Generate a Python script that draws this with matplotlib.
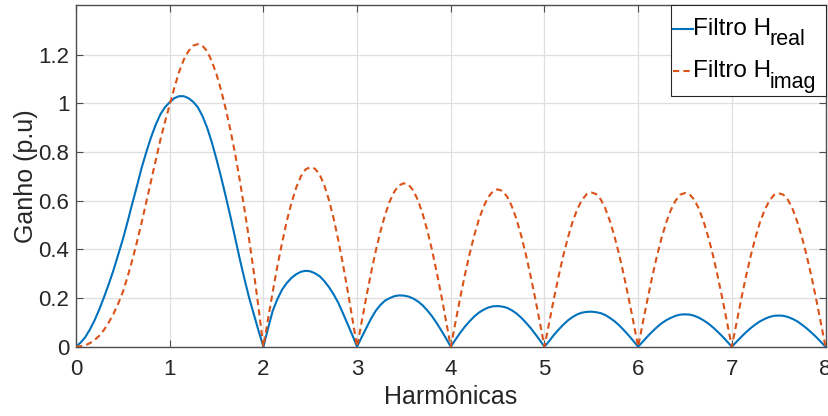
import matplotlib
matplotlib.use("Agg")
import matplotlib.pyplot as plt
import numpy as np
from matplotlib.lines import Line2D
from matplotlib.patches import Rectangle

# ── Data (one value every 0.05 harmonic) ─────────────────────────────────────

harmonicas = np.round(np.arange(161) * 0.05, 2)

# one row per harmonic interval [k, k+1)
ganho_real = [
    0.000, 0.017, 0.040, 0.072, 0.110, 0.155, 0.205, 0.258, 0.315, 0.378,
    0.442, 0.513, 0.588, 0.660, 0.735, 0.800, 0.860, 0.912, 0.955, 0.985,
    1.005, 1.022, 1.030, 1.030, 1.022, 1.007, 0.985, 0.948, 0.900, 0.840,
    0.770, 0.695, 0.615, 0.532, 0.445, 0.357, 0.275, 0.198, 0.130, 0.063,
    0.000, 0.076, 0.148, 0.196, 0.235, 0.262, 0.283, 0.298, 0.308, 0.312,
    0.310, 0.302, 0.290, 0.270, 0.245, 0.215, 0.180, 0.137, 0.092, 0.047,
    0.000, 0.040, 0.078, 0.116, 0.148, 0.172, 0.190, 0.200, 0.208, 0.211,
    0.210, 0.206, 0.198, 0.186, 0.170, 0.149, 0.125, 0.097, 0.066, 0.034,
    0.000, 0.029, 0.057, 0.082, 0.104, 0.124, 0.140, 0.152, 0.161, 0.166,
    0.167, 0.165, 0.160, 0.150, 0.137, 0.120, 0.100, 0.078, 0.053, 0.027,
    0.000, 0.023, 0.048, 0.070, 0.090, 0.108, 0.122, 0.133, 0.140, 0.143,
    0.144, 0.142, 0.138, 0.130, 0.118, 0.104, 0.087, 0.067, 0.046, 0.023,
    0.000, 0.021, 0.042, 0.062, 0.080, 0.096, 0.109, 0.119, 0.127, 0.132,
    0.133, 0.132, 0.127, 0.119, 0.108, 0.095, 0.079, 0.061, 0.042, 0.021,
    0.000, 0.020, 0.040, 0.059, 0.076, 0.091, 0.104, 0.114, 0.122, 0.127,
    0.128, 0.127, 0.122, 0.114, 0.104, 0.090, 0.075, 0.058, 0.040, 0.020,
    0.000,
]

ganho_imag = [
    0.000, 0.002, 0.006, 0.015, 0.028, 0.046, 0.070, 0.100, 0.135, 0.177,
    0.225, 0.287, 0.355, 0.430, 0.510, 0.595, 0.680, 0.767, 0.850, 0.925,
    0.995, 1.065, 1.130, 1.180, 1.215, 1.238, 1.244, 1.237, 1.215, 1.173,
    1.120, 1.052, 0.975, 0.887, 0.790, 0.680, 0.560, 0.435, 0.300, 0.155,
    0.000, 0.115, 0.226, 0.333, 0.428, 0.517, 0.592, 0.654, 0.700, 0.729,
    0.738, 0.732, 0.708, 0.664, 0.603, 0.527, 0.437, 0.337, 0.229, 0.115,
    0.000, 0.105, 0.208, 0.305, 0.395, 0.475, 0.544, 0.599, 0.639, 0.664,
    0.672, 0.666, 0.642, 0.602, 0.546, 0.477, 0.397, 0.306, 0.209, 0.105,
    0.000, 0.101, 0.200, 0.294, 0.380, 0.457, 0.523, 0.576, 0.615, 0.639,
    0.647, 0.641, 0.618, 0.579, 0.526, 0.459, 0.382, 0.295, 0.201, 0.102,
    0.000, 0.099, 0.196, 0.288, 0.373, 0.448, 0.513, 0.565, 0.603, 0.627,
    0.634, 0.628, 0.606, 0.568, 0.515, 0.450, 0.375, 0.289, 0.197, 0.100,
    0.000, 0.099, 0.195, 0.287, 0.372, 0.447, 0.511, 0.563, 0.601, 0.625,
    0.632, 0.626, 0.604, 0.566, 0.513, 0.449, 0.374, 0.288, 0.196, 0.099,
    0.000, 0.098, 0.195, 0.287, 0.371, 0.446, 0.511, 0.562, 0.600, 0.624,
    0.631, 0.625, 0.603, 0.565, 0.512, 0.448, 0.373, 0.288, 0.196, 0.099,
    0.000,
]

SERIES = [
    # (values, main label, subscript)
    (ganho_real, "Filtro H", "real"),
    (ganho_imag, "Filtro H", "imag"),
]

X_TICKS = [0, 1, 2, 3, 4, 5, 6, 7, 8]
Y_TICKS = [0, 0.2, 0.4, 0.6, 0.8, 1.0, 1.2]
Y_TICK_LABELS = ["0", "0.2", "0.4", "0.6", "0.8", "1", "1.2"]

# ── Style (MATLAB-like) ───────────────────────────────────────────────────────

COLORS = ["#0072BD", "#D95319"]
STYLES = ["-", (0, (3, 2))]
AXIS_GRAY = "#4d4d4d"
TEXT_GRAY = "#262626"

plt.rcParams["font.family"] = ["Liberation Sans", "DejaVu Sans"]

fig = plt.figure(figsize=(8.29, 4.16), dpi=100)
ax = fig.add_axes([0.0917, 0.1666, 0.9041, 0.8214])

for (vals, _, _), color, ls in zip(SERIES, COLORS, STYLES):
    ax.plot(harmonicas, vals, color=color, linestyle=ls, linewidth=1.5, zorder=3)

ax.set_xlim(0, 8)
ax.set_ylim(0, 1.405)
ax.set_xticks(X_TICKS)
ax.set_yticks(Y_TICKS)
ax.set_yticklabels(Y_TICK_LABELS)

ax.grid(True, color="#dfdfdf", linewidth=0.9)
ax.set_axisbelow(True)

for sp in ax.spines.values():
    sp.set_color(AXIS_GRAY)
    sp.set_linewidth(1.0)

ax.tick_params(direction="in", top=True, right=True, length=4.7, width=0.8,
               color=AXIS_GRAY, labelcolor=TEXT_GRAY, labelsize=16)
ax.tick_params(axis="x", pad=9)
ax.tick_params(axis="y", pad=4.8)

ax.set_xlabel("Harmônicas", fontsize=18, color=TEXT_GRAY, labelpad=3.5)
ax.set_ylabel("Ganho (p.u)", fontsize=18, color=TEXT_GRAY, labelpad=0.5)

# ── Legend, drawn by hand so the subscripts keep MATLAB's size/drop ─────────

box = Rectangle((0.7935, 0.7338), 0.2065, 0.2662, transform=ax.transAxes,
                facecolor="white", edgecolor=TEXT_GRAY, linewidth=0.8,
                zorder=5, clip_on=False)
ax.add_patch(box)

rows_line_y = [0.9289, 0.8077]
rows_text_y = [0.9122, 0.7884]
for (_, main, sub), color, ls, yl, yt in zip(SERIES, COLORS, STYLES,
                                            rows_line_y, rows_text_y):
    ax.add_line(Line2D([0.7961, 0.8228], [yl, yl], transform=ax.transAxes,
                       color=color, linestyle=ls, linewidth=1.5, zorder=6,
                       clip_on=False))
    txt = ax.text(0.8228, yt, main, transform=ax.transAxes, fontsize=17.5,
                  color="black", ha="left", va="baseline", zorder=6)
    ax.annotate(sub, xy=(1, 0), xycoords=txt, xytext=(-1, -3.8),
                textcoords="offset points", fontsize=15.5, color="black",
                ha="left", va="baseline", zorder=6)

fig.savefig("out.png", dpi=100)
